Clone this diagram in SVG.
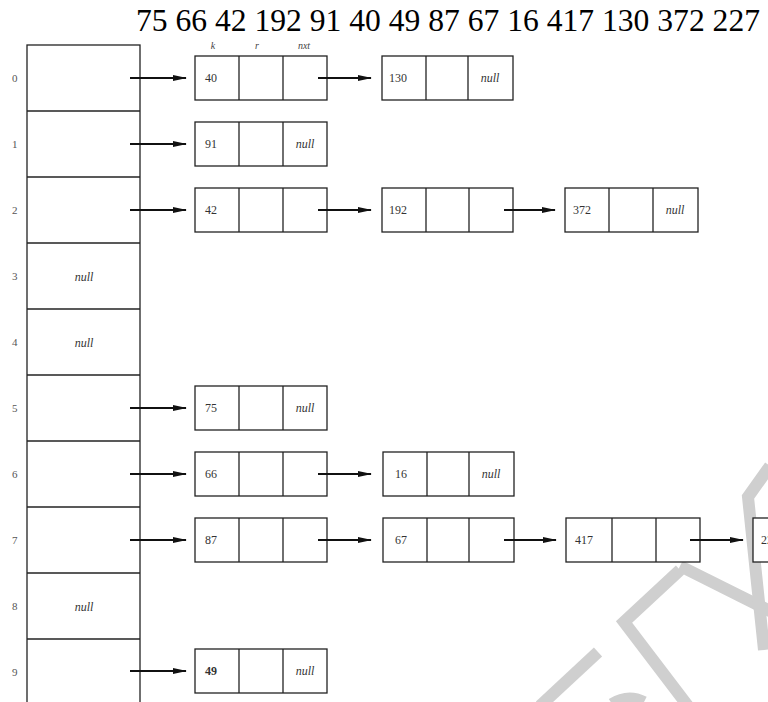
<svg xmlns="http://www.w3.org/2000/svg" width="768" height="702" viewBox="0 0 768 702">
<defs>
<marker id="ah" markerWidth="14" markerHeight="8" refX="13" refY="4" orient="auto" markerUnits="userSpaceOnUse">
<path d="M0,1 L14,4 L0,7 Z" fill="#111"/>
</marker>
<style>
.box{fill:#fff;stroke:#222;stroke-width:1.3}
.div{stroke:#222;stroke-width:1.3}
.con{stroke:#111;stroke-width:2;fill:none;marker-end:url(#ah)}
.key{font-family:'Liberation Serif',serif;font-size:12px;fill:#333}
.nul{font-family:'Liberation Serif',serif;font-size:12px;font-style:italic;fill:#333}
.idx{font-family:'Liberation Serif',serif;font-size:11px;fill:#555}
.hdr{font-family:'Liberation Serif',serif;font-size:10px;font-style:italic;fill:#444}
.wm{stroke:#cfcfcf;stroke-width:12;fill:none;stroke-linecap:butt;stroke-linejoin:miter}
</style>
</defs>
<rect width="768" height="702" fill="#fff"/>
<g id="watermark">
<line class="wm" x1="598" y1="652" x2="540" y2="706"/>
<polyline class="wm" points="680,570 624,622 688,706"/>
<line class="wm" x1="680" y1="566" x2="772" y2="612"/>
<polyline class="wm" points="770,466 748,497 764,650"/>
<path class="wm" d="M612,704 Q628,694 644,702"/>
</g>
<text x="136" y="31" font-family="'Liberation Serif',serif" font-size="31.6" fill="#000">75 66 42 192 91 40 49 87 67 16 417 130 372 227</text>
<g id="table">
<rect class="box" x="27" y="45" width="113" height="660"/>
<line class="div" x1="27" y1="111" x2="140" y2="111"/>
<line class="div" x1="27" y1="177" x2="140" y2="177"/>
<line class="div" x1="27" y1="243" x2="140" y2="243"/>
<line class="div" x1="27" y1="309" x2="140" y2="309"/>
<line class="div" x1="27" y1="375" x2="140" y2="375"/>
<line class="div" x1="27" y1="441" x2="140" y2="441"/>
<line class="div" x1="27" y1="507" x2="140" y2="507"/>
<line class="div" x1="27" y1="573" x2="140" y2="573"/>
<line class="div" x1="27" y1="639" x2="140" y2="639"/>
<text class="idx" x="12" y="82">0</text>
<text class="idx" x="12" y="148">1</text>
<text class="idx" x="12" y="214">2</text>
<text class="idx" x="12" y="280">3</text>
<text class="idx" x="12" y="346">4</text>
<text class="idx" x="12" y="412">5</text>
<text class="idx" x="12" y="478">6</text>
<text class="idx" x="12" y="544">7</text>
<text class="idx" x="12" y="610">8</text>
<text class="idx" x="12" y="676">9</text>
<text class="nul" x="84" y="281" text-anchor="middle">null</text>
<text class="nul" x="84" y="347" text-anchor="middle">null</text>
<text class="nul" x="84" y="611" text-anchor="middle">null</text>
</g>
<g id="fields">
<text class="hdr" x="213" y="49" text-anchor="middle">k</text>
<text class="hdr" x="257" y="49" text-anchor="middle">r</text>
<text class="hdr" x="304" y="49" text-anchor="middle">nxt</text>
</g>
<g id="n40"><rect class="box" x="195" y="56" width="132" height="44"/><line class="div" x1="239" y1="56" x2="239" y2="100"/><line class="div" x1="283" y1="56" x2="283" y2="100"/><text class="key" x="205" y="82">40</text></g>
<g id="n130"><rect class="box" x="382" y="56" width="131" height="44"/><line class="div" x1="426" y1="56" x2="426" y2="100"/><line class="div" x1="468" y1="56" x2="468" y2="100"/><text class="key" x="389" y="82">130</text><text class="nul" x="490" y="82" text-anchor="middle">null</text></g>
<g id="n91"><rect class="box" x="195" y="122" width="132" height="44"/><line class="div" x1="239" y1="122" x2="239" y2="166"/><line class="div" x1="283" y1="122" x2="283" y2="166"/><text class="key" x="205" y="148">91</text><text class="nul" x="305" y="148" text-anchor="middle">null</text></g>
<g id="n42"><rect class="box" x="195" y="188" width="132" height="44"/><line class="div" x1="239" y1="188" x2="239" y2="232"/><line class="div" x1="283" y1="188" x2="283" y2="232"/><text class="key" x="205" y="214">42</text></g>
<g id="n192"><rect class="box" x="382" y="188" width="131" height="44"/><line class="div" x1="426" y1="188" x2="426" y2="232"/><line class="div" x1="469" y1="188" x2="469" y2="232"/><text class="key" x="389" y="214">192</text></g>
<g id="n372"><rect class="box" x="565" y="188" width="133" height="44"/><line class="div" x1="609" y1="188" x2="609" y2="232"/><line class="div" x1="653" y1="188" x2="653" y2="232"/><text class="key" x="573" y="214">372</text><text class="nul" x="675" y="214" text-anchor="middle">null</text></g>
<g id="n75"><rect class="box" x="195" y="386" width="132" height="44"/><line class="div" x1="239" y1="386" x2="239" y2="430"/><line class="div" x1="283" y1="386" x2="283" y2="430"/><text class="key" x="205" y="412">75</text><text class="nul" x="305" y="412" text-anchor="middle">null</text></g>
<g id="n66"><rect class="box" x="195" y="452" width="132" height="44"/><line class="div" x1="239" y1="452" x2="239" y2="496"/><line class="div" x1="283" y1="452" x2="283" y2="496"/><text class="key" x="205" y="478">66</text></g>
<g id="n16"><rect class="box" x="383" y="452" width="131" height="44"/><line class="div" x1="427" y1="452" x2="427" y2="496"/><line class="div" x1="469" y1="452" x2="469" y2="496"/><text class="key" x="395" y="478">16</text><text class="nul" x="491" y="478" text-anchor="middle">null</text></g>
<g id="n87"><rect class="box" x="195" y="518" width="132" height="44"/><line class="div" x1="239" y1="518" x2="239" y2="562"/><line class="div" x1="283" y1="518" x2="283" y2="562"/><text class="key" x="205" y="544">87</text></g>
<g id="n67"><rect class="box" x="383" y="518" width="131" height="44"/><line class="div" x1="427" y1="518" x2="427" y2="562"/><line class="div" x1="469" y1="518" x2="469" y2="562"/><text class="key" x="395" y="544">67</text></g>
<g id="n417"><rect class="box" x="566" y="518" width="134" height="44"/><line class="div" x1="612" y1="518" x2="612" y2="562"/><line class="div" x1="656" y1="518" x2="656" y2="562"/><text class="key" x="575" y="544">417</text></g>
<g id="n227"><rect class="box" x="753" y="518" width="134" height="44"/><text class="key" x="761" y="544">227</text></g>
<g id="n49"><rect class="box" x="195" y="649" width="132" height="44"/><line class="div" x1="239" y1="649" x2="239" y2="693"/><line class="div" x1="283" y1="649" x2="283" y2="693"/><text class="key" x="205" y="675" font-weight="bold" fill="#111">49</text><text class="nul" x="305" y="675" text-anchor="middle">null</text></g>
<g id="connectors">
<line class="con" x1="130" y1="78" x2="186" y2="78"/>
<line class="con" x1="130" y1="144" x2="186" y2="144"/>
<line class="con" x1="130" y1="210" x2="186" y2="210"/>
<line class="con" x1="130" y1="408" x2="186" y2="408"/>
<line class="con" x1="130" y1="474" x2="186" y2="474"/>
<line class="con" x1="130" y1="540" x2="186" y2="540"/>
<line class="con" x1="130" y1="671" x2="186" y2="671"/>
<line class="con" x1="318" y1="78" x2="371" y2="78"/>
<line class="con" x1="318" y1="210" x2="371" y2="210"/>
<line class="con" x1="318" y1="474" x2="371" y2="474"/>
<line class="con" x1="318" y1="540" x2="371" y2="540"/>
<line class="con" x1="504" y1="210" x2="555" y2="210"/>
<line class="con" x1="504" y1="540" x2="556" y2="540"/>
<line class="con" x1="690" y1="540" x2="743" y2="540"/>
</g>
</svg>
